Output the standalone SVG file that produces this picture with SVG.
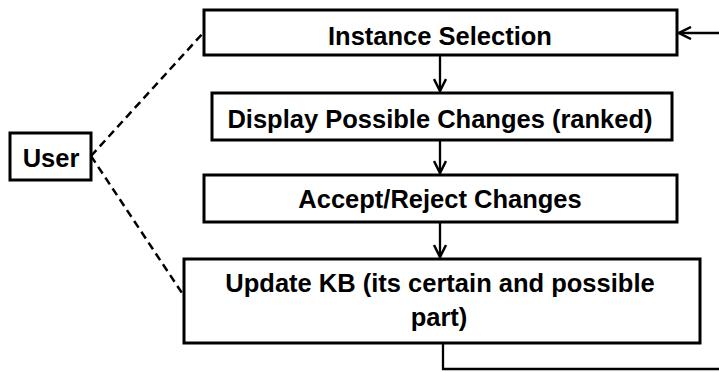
<svg xmlns="http://www.w3.org/2000/svg" width="719" height="372" viewBox="0 0 719 372">
<style>
.box{fill:#fff;stroke:#000;stroke-width:3}
.t{font-family:"Liberation Sans",Arial,sans-serif;font-weight:bold;font-size:25.5px;fill:#000;text-anchor:middle}
.ln{fill:none;stroke:#000;stroke-width:2.3}
.dash{fill:none;stroke:#000;stroke-width:2.5;stroke-dasharray:8,5}
</style>
<defs>
<marker id="ah" viewBox="0 0 14 14" refX="13" refY="7" markerWidth="14" markerHeight="14" markerUnits="userSpaceOnUse" orient="auto">
<path d="M1,1 L13,7 L1,13" fill="none" stroke="#000" stroke-width="2.5"/>
</marker>
</defs>
<g id="connectors">
<line class="dash" x1="91" y1="156" x2="204" y2="32"/>
<line class="dash" x1="91" y1="156" x2="184" y2="296"/>
<line class="ln" x1="440" y1="56" x2="440" y2="91" marker-end="url(#ah)"/>
<line class="ln" x1="440" y1="141" x2="440" y2="173" marker-end="url(#ah)"/>
<line class="ln" x1="440" y1="223" x2="440" y2="257" marker-end="url(#ah)"/>
<polyline class="ln" points="443,344 443,369 720,369"/>
<line class="ln" x1="720" y1="33" x2="679" y2="33" marker-end="url(#ah)"/>
</g>
<g id="n1">
<rect class="box" x="204" y="10" width="473" height="45"/>
<text class="t" x="440" y="45">Instance Selection</text>
</g>
<g id="n2">
<rect class="box" x="212" y="93" width="460" height="47"/>
<text class="t" x="440" y="128">Display Possible Changes (ranked)</text>
</g>
<g id="n3">
<rect class="box" x="204" y="175" width="473" height="47"/>
<text class="t" x="440" y="208">Accept/Reject Changes</text>
</g>
<g id="n4">
<rect class="box" x="184" y="259" width="516" height="84"/>
<text class="t" x="440" y="292">Update KB (its certain and possible</text>
<text class="t" x="439" y="326">part)</text>
</g>
<g id="user">
<rect class="box" x="10" y="133" width="81" height="47"/>
<text class="t" x="51" y="167">User</text>
</g>
</svg>
